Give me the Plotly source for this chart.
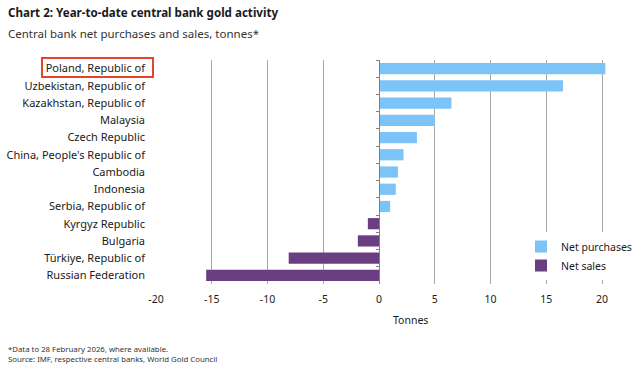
import plotly.graph_objects as go

title = "Chart 2: Year-to-date central bank gold activity"
subtitle = "Central bank net purchases and sales, tonnes*"
footnotes = ["*Data to 28 February 2026, where available.",
             "Source: IMF, respective central banks, World Gold Council"]

categories = ["Poland, Republic of", "Uzbekistan, Republic of", "Kazakhstan, Republic of",
              "Malaysia", "Czech Republic", "China, People's Republic of", "Cambodia",
              "Indonesia", "Serbia, Republic of", "Kyrgyz Republic", "Bulgaria",
              "Türkiye, Republic of", "Russian Federation"]

purchase_countries = categories[:9]
purchase_values = [20.3, 16.5, 6.5, 5.0, 3.4, 2.2, 1.7, 1.5, 1.0]
sales_countries = categories[9:]
sales_values = [-1.0, -1.9, -8.1, -15.5]

x_ticks = [-20, -15, -10, -5, 0, 5, 10, 15, 20]
x_tick_labels = ["-20", "-15", "-10", "-5", "0", "5", "10", "15", "20"]

FONT = "Noto Sans"
BLUE = "#7cc3f7"
PURPLE = "#6a3f82"
TEXT = "#1a1a1a"

# layout geometry (pixels)
W, H = 640, 366
L, R, T, B = 156, 608, 60, 284
def px(p):
    return (p - L) / (R - L)
def py(q):
    return (B - q) / (B - T)

fig = go.Figure()
fig.add_trace(go.Bar(y=purchase_countries, x=purchase_values, orientation="h",
                     name="Net purchases", marker=dict(color=BLUE, line=dict(width=0))))
fig.add_trace(go.Bar(y=sales_countries, x=sales_values, orientation="h",
                     name="Net sales", marker=dict(color=PURPLE, line=dict(width=0))))
# invisible helper trace for the zero axis with boundary ticks
fig.add_trace(go.Scatter(y=categories, x=[0]*len(categories), yaxis="y2", mode="markers",
                         marker=dict(opacity=0), showlegend=False, hoverinfo="skip"))

xmin, xmax = -20, 20 + (R - 602) / ((602 - 156) / 40)
zero_pos = (0 - xmin) / (xmax - xmin)

fig.update_layout(
    width=W, height=H,
    margin=dict(l=L, r=W - R, t=T, b=H - B, autoexpand=False),
    paper_bgcolor="white", plot_bgcolor="white",
    barmode="relative", bargap=0.35,
    font=dict(family=FONT, size=11, color=TEXT),
    showlegend=True,
    legend=dict(x=px(521), y=py(232), xanchor="left", yanchor="top",
                bgcolor="white", font=dict(size=10.5, color=TEXT),
                itemwidth=30, tracegroupgap=0),
    xaxis=dict(range=[xmin, xmax], tickvals=x_ticks, ticktext=x_tick_labels, showgrid=True,
               gridcolor="#a6a6a6", gridwidth=1, zeroline=False, showline=False,
               ticks="", tickfont=dict(size=10.5, color=TEXT), ticklabelstandoff=7),
    yaxis=dict(type="category", categoryorder="array", categoryarray=categories,
               range=[len(categories) - 0.5, -0.5], showgrid=False, showline=False,
               ticks="", tickfont=dict(size=11, color=TEXT), ticklabelstandoff=10),
    yaxis2=dict(type="category", categoryorder="array", categoryarray=categories,
                range=[len(categories) - 0.5, -0.5], overlaying="y", anchor="free",
                position=zero_pos, side="left", showline=True, linecolor="#808080",
                linewidth=1, ticks="outside", ticklen=3, tickcolor="#808080",
                tickson="boundaries", showticklabels=False, showgrid=False),
)

annotations = [
    dict(text="<b>" + title + "</b>", x=px(6), y=py(13), xanchor="left", yanchor="middle",
         font=dict(size=11.6, color=TEXT)),
    dict(text=subtitle, x=px(6), y=py(33), xanchor="left", yanchor="middle",
         font=dict(size=11.5, color="#333333")),
    dict(text="Tonnes", x=px(410), y=py(320), xanchor="center", yanchor="middle",
         font=dict(size=10.5, color=TEXT)),
    dict(text=footnotes[0], x=px(6), y=py(348.5), xanchor="left", yanchor="middle",
         font=dict(size=7.8, color="#333333")),
    dict(text=footnotes[1], x=px(6), y=py(359), xanchor="left", yanchor="middle",
         font=dict(size=7.8, color="#333333")),
]
for a in annotations:
    a.update(xref="paper", yref="paper", showarrow=False)
fig.update_layout(annotations=annotations)

fig.add_shape(type="rect", xref="paper", yref="paper",
              x0=px(42), x1=px(153), y0=py(58), y1=py(77),
              line=dict(color="#e8412c", width=2), fillcolor="rgba(0,0,0,0)")

fig.write_html("out.html", config={"displayModeBar": False},
               post_script="document.body.style.margin='0';")
